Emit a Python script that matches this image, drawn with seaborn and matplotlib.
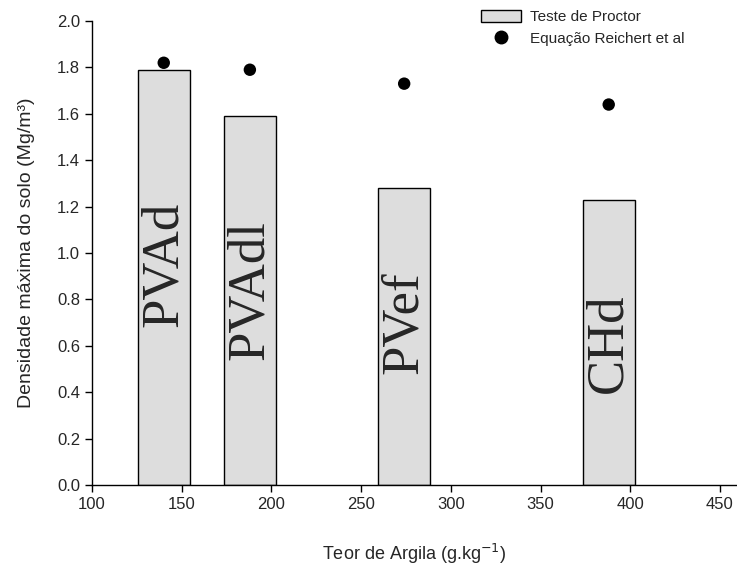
import matplotlib
matplotlib.use("Agg")
import matplotlib.pyplot as plt
import seaborn as sns
import pandas as pd
from matplotlib.patches import Patch
from matplotlib.lines import Line2D

# Clay content (g/kg) of each soil and maximum bulk density (Mg/m3)
soils = ["PVAd", "PVAdl", "PVef", "CHd"]
clay = [140, 188, 274, 388]
proctor = [1.79, 1.59, 1.28, 1.23]
reichert = [1.82, 1.79, 1.73, 1.64]
# vertical centre of the soil name written inside each bar
label_y = [0.95, 0.84, 0.70, 0.61]

x_ticks = [100, 150, 200, 250, 300, 350, 400, 450]
y_ticks = [0.0, 0.2, 0.4, 0.6, 0.8, 1.0, 1.2, 1.4, 1.6, 1.8, 2.0]

df = pd.DataFrame({"soil": soils, "clay": clay,
                   "proctor": proctor, "reichert": reichert})

sns.set_style("ticks")
plt.rcParams["font.family"] = ["Liberation Sans", "DejaVu Sans"]

fig = plt.figure(figsize=(7.37, 5.65), dpi=100)
ax = fig.add_axes([0.1248, 0.1416, 0.8752, 0.8212])

bar_width_units = 29.0
min_gap = min(b - a for a, b in zip(clay[:-1], clay[1:]))
sns.barplot(data=df, x="clay", y="proctor", native_scale=True,
            width=bar_width_units / min_gap, color="#dddddd",
            saturation=1, edgecolor="black", linewidth=1.0, ax=ax)
for p in ax.patches:
    p.set_facecolor("#dddddd")

sns.scatterplot(data=df, x="clay", y="reichert", color="black",
                s=80, edgecolor="none", ax=ax, zorder=3)

for xi, yi, name in zip(clay, label_y, soils):
    ax.text(xi, yi, name, rotation=90, ha="center", va="center",
            fontsize=38, family=["Liberation Serif", "DejaVu Serif"])

ax.set_xlim(100, 459.5)
ax.set_ylim(0, 2.0)
ax.set_xticks(x_ticks)
ax.set_xticklabels([str(t) for t in x_ticks], fontsize=12)
ax.set_yticks(y_ticks)
ax.set_yticklabels([f"{t:.1f}" for t in y_ticks], fontsize=12)
ax.tick_params(direction="out", length=5, width=1, color="black")
for s in ["left", "bottom"]:
    ax.spines[s].set_linewidth(1.0)
    ax.spines[s].set_color("black")
sns.despine(ax=ax)

ax.set_xlabel("Teor de Argila (g.kg$^{-1}$)", fontsize=13, labelpad=22)
ax.set_ylabel("Densidade máxima do solo (Mg/m³)", fontsize=14, labelpad=16)

handles = [Patch(facecolor="#dddddd", edgecolor="black", linewidth=1.0),
           Line2D([], [], marker="o", color="black", linestyle="none",
                  markersize=9)]
fig.legend(handles, ["Teste de Proctor", "Equação Reichert et al"],
           loc="upper left", bbox_to_anchor=(0.636, 1.004), frameon=False,
           fontsize=11, handlelength=2.6, handleheight=0.8,
           handletextpad=0.6, labelspacing=0.5, borderpad=0.3)

fig.savefig("out.png", dpi=100, facecolor="white")
